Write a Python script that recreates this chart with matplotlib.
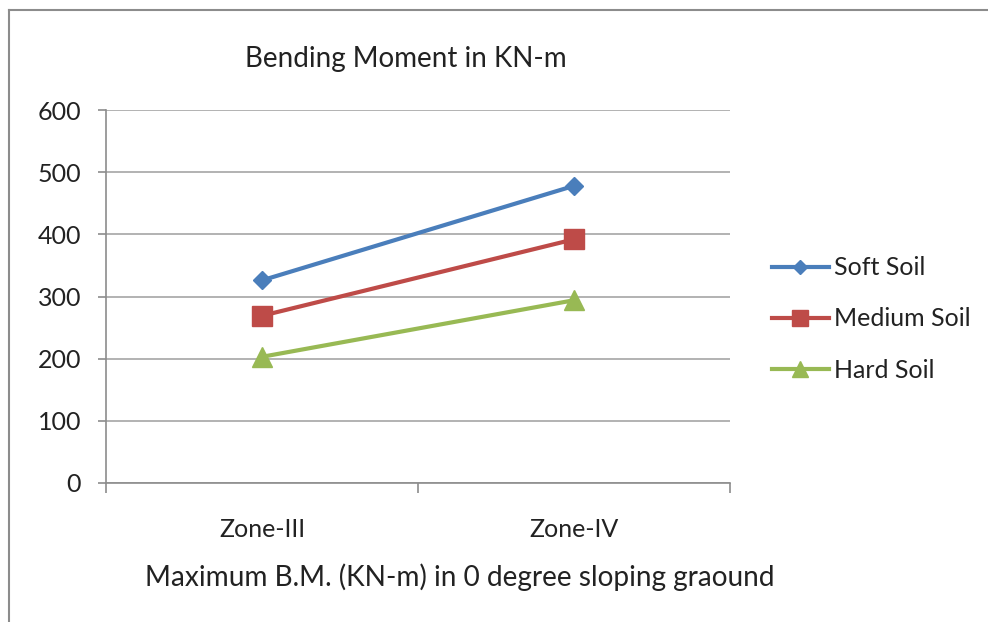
import matplotlib
matplotlib.use("Agg")
import matplotlib.pyplot as plt
from matplotlib.lines import Line2D

plt.rcParams['font.family'] = ['Lato', 'DejaVu Sans']

# data
zones = ['Zone-III', 'Zone-IV']
soft_soil = [326, 478]
medium_soil = [269, 392]
hard_soil = [203, 294]

series = [
    ('Soft Soil', soft_soil, '#4a7ebb', 'D', 9.5),
    ('Medium Soil', medium_soil, '#be4b48', 's', 14),
    ('Hard Soil', hard_soil, '#98b954', '^', 14),
]

fig = plt.figure(figsize=(9.88, 6.22), dpi=100)
ax = fig.add_axes([106/988, 1 - 483/622, (730-106)/988, (483-110)/622])

x = [0.5 + i for i in range(len(zones))]
for name, vals, col, mk, ms in series:
    ax.plot(x, vals, color=col, lw=3, marker=mk, markersize=ms, label=name)

ax.set_xlim(0, len(zones))
ax.set_ylim(0, 600)
ax.set_yticks(range(0, 601, 100))
ax.yaxis.grid(True, color='#a6a6a6', lw=1.2)
ax.set_axisbelow(True)

ax.set_xticks(range(len(zones) + 1))
ax.set_xticklabels([])
ax.set_xticks(x, minor=True)
ax.set_xticklabels(zones, minor=True)
ax.tick_params(axis='x', which='major', length=7, width=1.2, color='#8c8c8c', direction='out')
ax.tick_params(axis='x', which='minor', length=0, pad=25, labelsize=18, labelcolor='#222222')
ax.tick_params(axis='y', length=6, width=1.2, color='#8c8c8c', pad=12, labelsize=18, labelcolor='#222222')

for s in ['top', 'right']:
    ax.spines[s].set_visible(False)
for s in ['left', 'bottom']:
    ax.spines[s].set_color('#8c8c8c')
    ax.spines[s].set_linewidth(1.2)

fig.text(406/988, 1 - 59/622, 'Bending Moment in KN-m', ha='center', va='center',
         fontsize=20, color='#222222')
fig.text(460/988, 1 - 577/622, 'Maximum B.M. (KN-m) in 0 degree sloping graound',
         ha='center', va='center', fontsize=20.2, color='#222222')

leg = ax.legend(loc='center left', bbox_to_anchor=(749/988, 1 - 319/622),
                bbox_transform=fig.transFigure, frameon=False, fontsize=18,
                labelspacing=1.13, handlelength=2.3, handletextpad=0.2,
                markerscale=0.8)
for t in leg.get_texts():
    t.set_color('#222222')

# outer frame (left and top edges visible in the reference)
fig.add_artist(Line2D([9/988, 9/988], [0, 1 - 10/622], color='#8c8c8c', lw=1.5,
                      transform=fig.transFigure))
fig.add_artist(Line2D([9/988, 1], [1 - 10/622, 1 - 10/622], color='#8c8c8c', lw=1.5,
                      transform=fig.transFigure))

fig.savefig('out.png', dpi=100)
